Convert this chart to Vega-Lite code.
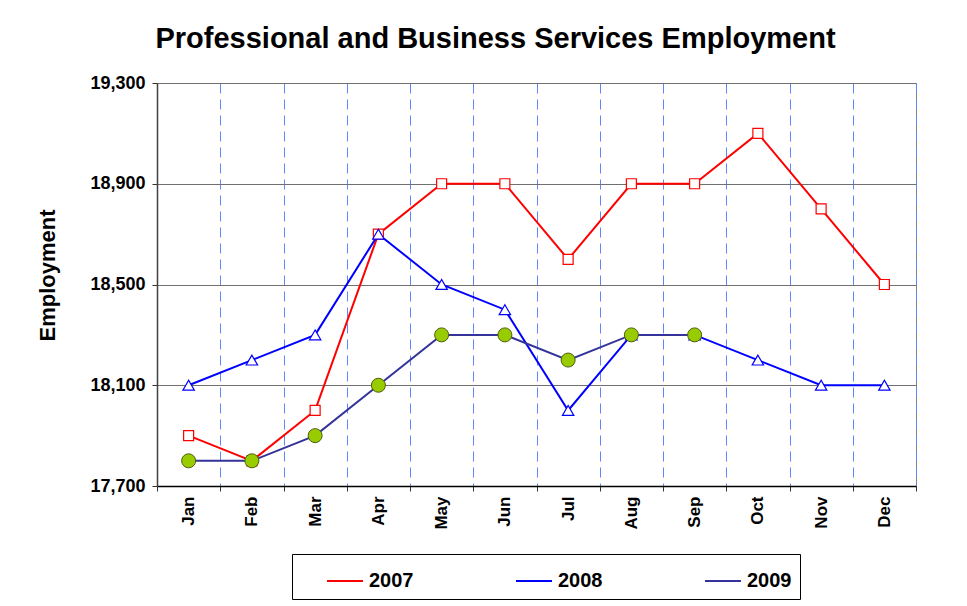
{
  "$schema": "https://vega.github.io/schema/vega-lite/v6.json",
  "width": 759,
  "height": 403,
  "autosize": "none",
  "padding": {"left": 157, "top": 83, "right": 51, "bottom": 120},
  "background": "white",
  "title": {
    "text": "Professional and Business Services Employment",
    "font": "Liberation Sans",
    "fontSize": 29,
    "fontWeight": "bold",
    "color": "black",
    "anchor": "middle",
    "frame": "group",
    "dx": -41,
    "dy": 25,
    "baseline": "alphabetic",
    "offset": 22
  },
  "config": {
    "font": "Liberation Sans",
    "view": {"stroke": "#808080", "strokeWidth": 1}
  },
  "data": {
    "values": [
      {"month": "Jan", "year": "2007", "value": 17900},
      {"month": "Feb", "year": "2007", "value": 17800},
      {"month": "Mar", "year": "2007", "value": 18000},
      {"month": "Apr", "year": "2007", "value": 18700},
      {"month": "May", "year": "2007", "value": 18900},
      {"month": "Jun", "year": "2007", "value": 18900},
      {"month": "Jul", "year": "2007", "value": 18600},
      {"month": "Aug", "year": "2007", "value": 18900},
      {"month": "Sep", "year": "2007", "value": 18900},
      {"month": "Oct", "year": "2007", "value": 19100},
      {"month": "Nov", "year": "2007", "value": 18800},
      {"month": "Dec", "year": "2007", "value": 18500},
      {"month": "Jan", "year": "2008", "value": 18100},
      {"month": "Feb", "year": "2008", "value": 18200},
      {"month": "Mar", "year": "2008", "value": 18300},
      {"month": "Apr", "year": "2008", "value": 18700},
      {"month": "May", "year": "2008", "value": 18500},
      {"month": "Jun", "year": "2008", "value": 18400},
      {"month": "Jul", "year": "2008", "value": 18000},
      {"month": "Aug", "year": "2008", "value": 18300},
      {"month": "Sep", "year": "2008", "value": 18300},
      {"month": "Oct", "year": "2008", "value": 18200},
      {"month": "Nov", "year": "2008", "value": 18100},
      {"month": "Dec", "year": "2008", "value": 18100},
      {"month": "Jan", "year": "2009", "value": 17800},
      {"month": "Feb", "year": "2009", "value": 17800},
      {"month": "Mar", "year": "2009", "value": 17900},
      {"month": "Apr", "year": "2009", "value": 18100},
      {"month": "May", "year": "2009", "value": 18300},
      {"month": "Jun", "year": "2009", "value": 18300},
      {"month": "Jul", "year": "2009", "value": 18200},
      {"month": "Aug", "year": "2009", "value": 18300},
      {"month": "Sep", "year": "2009", "value": 18300}
    ]
  },
  "encoding": {
    "x": {
      "field": "month",
      "type": "ordinal",
      "sort": ["Jan", "Feb", "Mar", "Apr", "May", "Jun", "Jul", "Aug", "Sep", "Oct", "Nov", "Dec"],
      "scale": {"type": "band", "paddingInner": 0, "paddingOuter": 0},
      "axis": {
        "title": null,
        "tickBand": "extent",
        "grid": true,
        "gridDash": [10, 6],
        "gridColor": "#5f86ff",
        "gridWidth": 1,
        "labelAngle": -90,
        "labelFontSize": 17,
        "labelFontWeight": "bold",
        "labelColor": "black",
        "labelPadding": 5,
        "tickSize": 5,
        "tickColor": "#333333",
        "domainColor": "black",
        "domainWidth": 1.5
      }
    },
    "y": {
      "field": "value",
      "type": "quantitative",
      "scale": {"domain": [17700, 19300], "nice": false, "zero": false},
      "axis": {
        "values": [17700, 18100, 18500, 18900, 19300],
        "format": ",.0f",
        "title": "Employment",
        "titleFontSize": 22,
        "titleFontWeight": "bold",
        "titleColor": "black",
        "titlePadding": 30,
        "titleY": 192,
        "labelFontSize": 18,
        "labelFontWeight": "bold",
        "labelColor": "black",
        "labelPadding": 7,
        "tickSize": 5,
        "tickColor": "#333333",
        "domainColor": "#404040",
        "domainWidth": 1.5,
        "grid": true,
        "gridColor": "#707070",
        "gridWidth": 1
      }
    }
  },
  "layer": [
    {
      "mark": {"type": "line", "strokeWidth": 2},
      "encoding": {
        "stroke": {
          "field": "year",
          "type": "nominal",
          "scale": {"domain": ["2007", "2008", "2009"], "range": ["#FF0000", "#0000FF", "#333399"]},
          "legend": {
            "orient": "none",
            "legendX": 135,
            "legendY": 471,
            "direction": "horizontal",
            "title": null,
            "strokeColor": "black",
            "fillColor": "white",
            "padding": 8,
            "symbolOffset": 26,
            "symbolType": "stroke",
            "symbolSize": 1296,
            "symbolStrokeWidth": 2,
            "labelFontSize": 20,
            "labelFontWeight": "bold",
            "labelColor": "black",
            "labelOffset": 5,
            "columnPadding": 75
          }
        }
      }
    },
    {
      "transform": [{"filter": "datum.year === '2007'"}],
      "mark": {"type": "point", "shape": "square", "filled": true, "fill": "white", "stroke": "#FF0000", "strokeWidth": 1.2, "size": 100, "opacity": 1},
      "encoding": {}
    },
    {
      "transform": [{"filter": "datum.year === '2008'"}],
      "mark": {"type": "point", "shape": "triangle-up", "filled": true, "fill": "white", "stroke": "#0000FF", "strokeWidth": 1.2, "size": 130, "opacity": 1},
      "encoding": {}
    },
    {
      "transform": [{"filter": "datum.year === '2009'"}],
      "mark": {"type": "point", "shape": "circle", "filled": true, "fill": "#99CC00", "stroke": "#4D5E10", "strokeWidth": 1, "size": 196, "opacity": 1},
      "encoding": {}
    }
  ]
}
